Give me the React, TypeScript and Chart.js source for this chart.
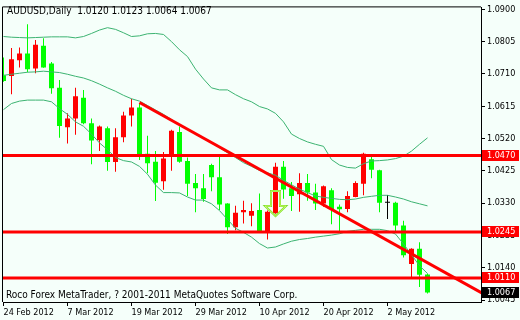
import React, { useEffect, useRef } from 'react';
import { Chart, registerables } from 'chart.js';

Chart.register(...registerables);

// ---- data ----
const opens = [1.0706, 1.0704, 1.0750, 1.0770, 1.0726, 1.0793, 1.0741, 1.0669, 1.0553, 1.0579,
  1.0640, 1.0565, 1.0515, 1.0550, 1.0451, 1.0524, 1.0588, 1.0611, 1.0475, 1.0452,
  1.0394, 1.0466, 1.0539, 1.0454, 1.0389, 1.0374, 1.0442, 1.0406, 1.0329, 1.0259,
  1.0303, 1.0293, 1.0310, 1.0247, 1.0300, 1.0437, 1.0374, 1.0356, 1.0389, 1.0361,
  1.0329, 1.0368, 1.0319, 1.0313, 1.0348, 1.0387, 1.0459, 1.0427, 1.0331, 1.0331,
  1.0264, 1.0151, 1.0196, 1.0120];
const highs = [1.0758, 1.0786, 1.0788, 1.0856, 1.0810, 1.0815, 1.0745, 1.0692, 1.0594, 1.0669,
  1.0663, 1.0579, 1.0558, 1.0555, 1.0550, 1.0599, 1.0637, 1.0623, 1.0528, 1.0483,
  1.0480, 1.0546, 1.0555, 1.0464, 1.0416, 1.0416, 1.0446, 1.0467, 1.0330, 1.0322,
  1.0337, 1.0330, 1.0358, 1.0308, 1.0449, 1.0454, 1.0392, 1.0418, 1.0416, 1.0387,
  1.0382, 1.0374, 1.0326, 1.0365, 1.0394, 1.0478, 1.0472, 1.0428, 1.0354, 1.0334,
  1.0278, 1.0197, 1.0215, 1.0123];
const lows = [1.0687, 1.0650, 1.0729, 1.0715, 1.0712, 1.0728, 1.0652, 1.0522, 1.0505, 1.0531,
  1.0562, 1.0444, 1.0483, 1.0425, 1.0422, 1.0509, 1.0555, 1.0457, 1.0418, 1.0336,
  1.0369, 1.0425, 1.0449, 1.0351, 1.0303, 1.0334, 1.0365, 1.0310, 1.0239, 1.0250,
  1.0270, 1.0262, 1.0246, 1.0223, 1.0299, 1.0343, 1.0307, 1.0305, 1.0337, 1.0310,
  1.0319, 1.0268, 1.0247, 1.0303, 1.0347, 1.0353, 1.0403, 1.0303, 1.0283, 1.0247,
  1.0170, 1.0108, 1.0083, 1.0064];
const closes = [1.0689, 1.0753, 1.0770, 1.0724, 1.0796, 1.0729, 1.0668, 1.0557, 1.0579, 1.0644,
  1.0565, 1.0514, 1.0555, 1.0451, 1.0524, 1.0588, 1.0611, 1.0473, 1.0447, 1.0390,
  1.0461, 1.0543, 1.0452, 1.0387, 1.0374, 1.0342, 1.0406, 1.0326, 1.0259, 1.0302,
  1.0310, 1.0307, 1.0247, 1.0305, 1.0437, 1.0370, 1.0351, 1.0389, 1.0361, 1.0329,
  1.0380, 1.0313, 1.0312, 1.0351, 1.0389, 1.0475, 1.0428, 1.0331, 1.0331, 1.0264,
  1.0177, 1.0196, 1.0119, 1.0067];

const upperBand = [1.0820, 1.0818, 1.0817, 1.0816, 1.0817, 1.0818, 1.0819, 1.0819, 1.0819, 1.0816,
  1.0820, 1.0829, 1.0839, 1.0846, 1.0841, 1.0831, 1.0820, 1.0822, 1.0828, 1.0829,
  1.0826, 1.0805, 1.0781, 1.0761, 1.0724, 1.0695, 1.0669, 1.0663, 1.0663, 1.0649,
  1.0637, 1.0628, 1.0614, 1.0607, 1.0594, 1.0569, 1.0533, 1.0520, 1.0510, 1.0503,
  1.0497, 1.0458, 1.0442, 1.0435, 1.0433, 1.0446, 1.0454, 1.0455, 1.0457, 1.0461,
  1.0468, 1.0483, 1.0503, 1.0522];
const middleBand = [1.0706, 1.0709, 1.0712, 1.0715, 1.0716, 1.0718, 1.0716, 1.0714, 1.0709, 1.0703,
  1.0698, 1.0690, 1.0680, 1.0669, 1.0659, 1.0647, 1.0637, 1.0630, 1.0617, 1.0604,
  1.0591, 1.0576, 1.0560, 1.0546, 1.0533, 1.0520, 1.0507, 1.0493, 1.0478, 1.0464,
  1.0449, 1.0438, 1.0426, 1.0419, 1.0412, 1.0397, 1.0384, 1.0371, 1.0361, 1.0351,
  1.0347, 1.0344, 1.0341, 1.0340, 1.0342, 1.0347, 1.0350, 1.0353, 1.0353, 1.0348,
  1.0342, 1.0334, 1.0328, 1.0322];
const lowerBand = [1.0605, 1.0623, 1.0630, 1.0633, 1.0633, 1.0633, 1.0628, 1.0608, 1.0591, 1.0569,
  1.0556, 1.0533, 1.0507, 1.0487, 1.0464, 1.0455, 1.0451, 1.0438, 1.0415, 1.0383,
  1.0361, 1.0361, 1.0360, 1.0348, 1.0339, 1.0339, 1.0328, 1.0308, 1.0282, 1.0256,
  1.0244, 1.0230, 1.0211, 1.0198, 1.0201, 1.0210, 1.0218, 1.0223, 1.0226, 1.0230,
  1.0233, 1.0236, 1.0240, 1.0247, 1.0250, 1.0253, 1.0253, 1.0253, 1.0249, 1.0239,
  1.0210, 1.0178, 1.0146, 1.0123];

const xTickBars = [0, 8, 16, 24, 32, 40, 48];
const xTickLabels = ['24 Feb 2012', '7 Mar 2012', '19 Mar 2012', '29 Mar 2012', '10 Apr 2012', '20 Apr 2012', '2 May 2012'];
const yTickValues = [1.0045, 1.0140, 1.0235, 1.0330, 1.0425, 1.0520, 1.0615, 1.0710, 1.0805, 1.0900];
const levelPrices = [1.0470, 1.0245, 1.0110];
const lastPrice = 1.0067;
const trendBars = [17, 60];
const trendPrices = [1.0626, 1.00628];
const arrowBars = [34];
const arrowPrices = [1.0292];
const titleText = 'AUDUSD,Daily  1.0120 1.0123 1.0064 1.0067';
const footerText = 'Roco Forex MetaTrader, ? 2001-2011 MetaQuotes Software Corp.';

const X_MIN = -0.0625;
const X_MAX = 59.6875;
const Y_MIN = 1.003922;
const Y_MAX = 1.090562;

const FONT_FAMILY = "'DejaVu Sans Condensed', 'DejaVu Sans', sans-serif";
const AXIS_SIZE = 9;
const TEXT_SIZE = 10;
const BG = '#F5FFFA';
const UP = '#FF0000';
const DOWN = '#00FF00';
const BAND = '#3CB371';
const LEVEL = '#FF0000';

export default function App() {
  const ref = useRef<HTMLCanvasElement | null>(null);

  useEffect(() => {
    document.body.style.margin = '0';
    const canvas = ref.current;
    if (!canvas) return;
    const idx = opens.map((_, i) => i);
    const colors = idx.map((i) => (closes[i] > opens[i] ? UP : closes[i] < opens[i] ? DOWN : '#000000'));

    const decor = {
      id: 'decor',
      beforeDraw(chart: any) {
        const c = chart.ctx;
        c.save();
        c.fillStyle = BG;
        c.fillRect(0, 0, chart.width, chart.height);
        c.restore();
      },
      afterDraw(chart: any) {
        const c = chart.ctx;
        const a = chart.chartArea;
        const xs = chart.scales.x;
        const ys = chart.scales.y;
        c.save();
        // frame (left & top)
        c.strokeStyle = '#000';
        c.lineWidth = 1;
        c.beginPath();
        c.moveTo(a.left - 0.5, a.bottom);
        c.lineTo(a.left - 0.5, a.top - 0.5);
        c.lineTo(a.right, a.top - 0.5);
        c.stroke();

        // arrows
        arrowBars.forEach((b, k) => {
          const tx = xs.getPixelForValue(b);
          const ty = ys.getPixelForValue(arrowPrices[k]);
          c.beginPath();
          c.moveTo(tx - 4.5, ty - 25);
          c.lineTo(tx + 4.5, ty - 25);
          c.lineTo(tx + 4.5, ty - 10);
          c.lineTo(tx + 10.5, ty - 10);
          c.lineTo(tx, ty);
          c.lineTo(tx - 10.5, ty - 10);
          c.lineTo(tx - 4.5, ty - 10);
          c.closePath();
          c.strokeStyle = '#7FE030';
          c.lineWidth = 2;
          c.stroke();
          c.strokeStyle = '#D8FF70';
          c.lineWidth = 0.8;
          c.stroke();
        });

        // price tags
        c.font = `${AXIS_SIZE}px ${FONT_FAMILY}`;
        c.textBaseline = 'middle';
        c.textAlign = 'left';
        const tag = (v: number, bg: string) => {
          const y = Math.round(ys.getPixelForValue(v)) - 1;
          c.fillStyle = bg;
          c.fillRect(a.right + 1, y - 5, 37, 11);
          c.fillStyle = '#FFFFFF';
          c.fillText(v.toFixed(4), a.right + 6, y + 0.5);
        };
        levelPrices.forEach((v) => tag(v, LEVEL));
        tag(lastPrice, '#000000');

        // texts
        c.font = `${TEXT_SIZE}px ${FONT_FAMILY}`;
        c.fillStyle = '#000';
        c.fillText(titleText, 7, 11);
        c.fillText(footerText, 6, 295);
        c.restore();
      },
    };

    const chart = new Chart(canvas, {
      type: 'bar',
      data: {
        datasets: [
          ...levelPrices.map((p) => ({
            type: 'line' as const,
            data: [{ x: X_MIN, y: p }, { x: X_MAX, y: p }],
            borderColor: LEVEL,
            borderWidth: 3,
            pointRadius: 0,
            clip: 0,
            order: 0,
          })),
          {
            type: 'line' as const,
            data: trendBars.map((b, k) => ({ x: b, y: trendPrices[k] })),
            borderColor: LEVEL,
            borderWidth: 3,
            pointRadius: 0,
            clip: 0,
            order: 0,
          },
          ...[upperBand, middleBand, lowerBand].map((band) => ({
            type: 'line' as const,
            data: band.map((v, i) => ({ x: i, y: v })),
            borderColor: BAND,
            borderWidth: 1,
            pointRadius: 0,
            tension: 0,
            clip: 0,
            order: 1,
          })),
          {
            type: 'bar' as const,
            data: idx.map((i) => ({ x: i, y: [opens[i], closes[i]] })),
            backgroundColor: colors,
            borderWidth: 0,
            barThickness: 5,
            minBarLength: 1,
            grouped: false,
            inflateAmount: 0,
            order: 2,
          },
          {
            type: 'bar' as const,
            data: idx.map((i) => ({ x: i, y: [lows[i], highs[i]] })),
            backgroundColor: colors,
            borderWidth: 0,
            barThickness: 1,
            grouped: false,
            inflateAmount: 0,
            order: 3,
          },
        ] as any,
      },
      options: {
        responsive: false,
        animation: false,
        devicePixelRatio: 1,
        layout: { padding: { left: 3, top: 2, right: 0, bottom: 0 }, autoPadding: false } as any,
        plugins: { legend: { display: false }, tooltip: { enabled: false }, title: { display: false } },
        scales: {
          x: {
            type: 'linear',
            position: 'bottom',
            min: X_MIN,
            max: X_MAX,
            offset: false,
            afterBuildTicks: (s: any) => {
              s.ticks = xTickBars.map((v) => ({ value: v }));
            },
            afterFit: (s: any) => {
              s.height = 18;
            },
            ticks: {
              autoSkip: false,
              maxRotation: 0,
              minRotation: 0,
              align: 'start',
              padding: 1,
              color: '#000',
              font: { family: FONT_FAMILY, size: AXIS_SIZE },
              callback: (v: any) => {
                const k = xTickBars.indexOf(Number(v));
                return k >= 0 ? xTickLabels[k] : '';
              },
            },
            grid: { offset: false, drawOnChartArea: false, drawTicks: true, tickLength: 4, color: '#000', lineWidth: 1 },
            border: { display: true, color: '#000', width: 1 },
          },
          y: {
            type: 'linear',
            position: 'right',
            min: Y_MIN,
            max: Y_MAX,
            afterBuildTicks: (s: any) => {
              s.ticks = yTickValues.map((v) => ({ value: v }));
            },
            afterFit: (s: any) => {
              s.width = 39;
            },
            ticks: {
              autoSkip: false,
              padding: 2,
              color: '#000',
              font: { family: FONT_FAMILY, size: AXIS_SIZE },
              callback: (v: any) => Number(v).toFixed(4),
            },
            grid: { drawOnChartArea: false, drawTicks: true, tickLength: 4, color: '#000', lineWidth: 1 },
            border: { display: true, color: '#000', width: 1 },
          },
        },
      } as any,
      plugins: [decor],
    });
    return () => chart.destroy();
  }, []);

  return (
    <div style={{ position: 'fixed', left: 0, top: 0, width: 520, height: 320, background: BG }}>
      <canvas ref={ref} width={520} height={320} style={{ display: 'block', width: 520, height: 320 }} />
    </div>
  );
}
